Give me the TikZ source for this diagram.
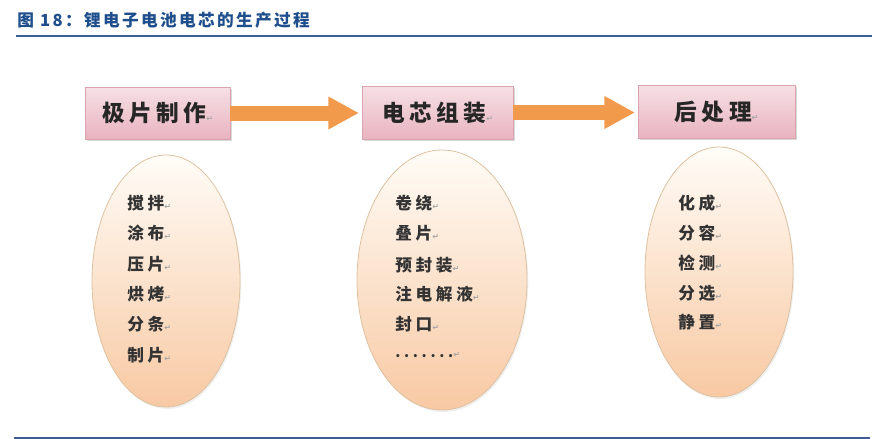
\documentclass[tikz,border=0pt]{standalone}
\usepackage{fontspec}
\setmainfont{Noto Sans CJK SC}
\newfontfamily\symf{DejaVu Sans}
\usetikzlibrary{shapes.geometric,shadows,arrows.meta}
\definecolor{titleblue}{HTML}{1F4E8C}
\definecolor{rulebl}{HTML}{3B5F8E}
\definecolor{boxtop}{HTML}{F6E0E5}
\definecolor{boxbot}{HTML}{E9B3C0}
\definecolor{boxedge}{HTML}{D9A3AF}
\definecolor{elltop}{HTML}{FFFCF7}
\definecolor{ellbot}{HTML}{F8C9A3}
\definecolor{elledge}{HTML}{DDC2A2}
\definecolor{arrorange}{HTML}{F29A4C}
\definecolor{itemtext}{HTML}{333333}
\newcommand\retmark{{\symf\fontsize{6}{6}\selectfont\color{black!35}↵}}
\begin{document}
\begin{tikzpicture}[x=0.75pt,y=-0.75pt,
  stagebox/.style={draw=boxedge, line width=0.5pt, top color=boxtop, bottom color=boxbot,
    drop shadow={opacity=0.3, shadow xshift=1.5pt, shadow yshift=-1.5pt},
    inner sep=0pt, text=black!85,
    font=\bfseries\fontsize{17}{17}\selectfont\addfontfeatures{LetterSpace=20}},
  oval/.style={ellipse, draw=elledge, line width=0.6pt, top color=elltop, bottom color=ellbot,
    drop shadow={opacity=0.12, shadow xshift=1pt, shadow yshift=-1.5pt}, inner sep=0pt},
  item/.style={anchor=west, inner sep=0pt, text=itemtext,
    font=\bfseries\fontsize{12.5}{12.5}\selectfont\addfontfeatures{LetterSpace=22}},
  flow/.style={arrorange, line width=11.25pt, -{Triangle[width=23pt,length=23pt]}, shorten >=2pt}
]
\useasboundingbox (0,0) rectangle (882,439);
% title and rules
\node[anchor=west, inner sep=0pt, text=titleblue,
  font=\bfseries\fontsize{12.5}{12.5}\selectfont\addfontfeatures{LetterSpace=14}] (title) at (17,20) {图 18：锂电子电池电芯的生产过程};
\coordinate (r1a) at (16,36); \coordinate (r1b) at (872,36);
\coordinate (r2a) at (14,438); \coordinate (r2b) at (870,438);
\draw[rulebl, line width=1.6pt] (r1a) -- (r1b);
\draw[rulebl, line width=1pt] (r2a) -- (r2b);
% ellipses
\node[oval, minimum width=111pt, minimum height=189pt] (e1) at (166,281) {};
\node[oval, minimum width=127.5pt, minimum height=195pt] (e2) at (442,280) {};
\node[oval, minimum width=111pt, minimum height=187.5pt] (e3) at (719,272) {};
% stage boxes
\node[stagebox, minimum width=108.75pt, minimum height=39pt] (b1) at (157.5,113) {极片制作\retmark};
\node[stagebox, minimum width=113.25pt, minimum height=39.75pt] (b2) at (437.5,112.5) {电芯组装\retmark};
\node[stagebox, minimum width=117.75pt, minimum height=39.75pt] (b3) at (716.5,111.5) {后处理\retmark};
% arrows
\draw[flow] (b1.east) -- (b1.east -| b2.west);
\draw[flow] (b2.east) -- (b2.east -| b3.west);
% items: ellipse 1
\node[item] (a1) at (127,203) {搅拌\retmark};
\node[item] (a2) at (127,233) {涂布\retmark};
\node[item] (a3) at (127,264) {压片\retmark};
\node[item] (a4) at (127,294) {烘烤\retmark};
\node[item] (a5) at (127,324) {分条\retmark};
\node[item] (a6) at (127,355) {制片\retmark};
% items: ellipse 2
\node[item] (c1) at (395,203) {卷绕\retmark};
\node[item] (c2) at (395,233) {叠片\retmark};
\node[item] (c3) at (395,265) {预封装\retmark};
\node[item] (c4) at (395,294) {注电解液\retmark};
\node[item] (c5) at (395,324) {封口\retmark};
\node[item, font=\bfseries\fontsize{11}{11}\selectfont\addfontfeatures{LetterSpace=25}] (c6) at (395,355) {.......\retmark};
% items: ellipse 3
\node[item] (d1) at (678,203) {化成\retmark};
\node[item] (d2) at (678,233) {分容\retmark};
\node[item] (d3) at (678,263) {检测\retmark};
\node[item] (d4) at (678,293) {分选\retmark};
\node[item] (d5) at (678,322) {静置\retmark};
\end{tikzpicture}
\end{document}
